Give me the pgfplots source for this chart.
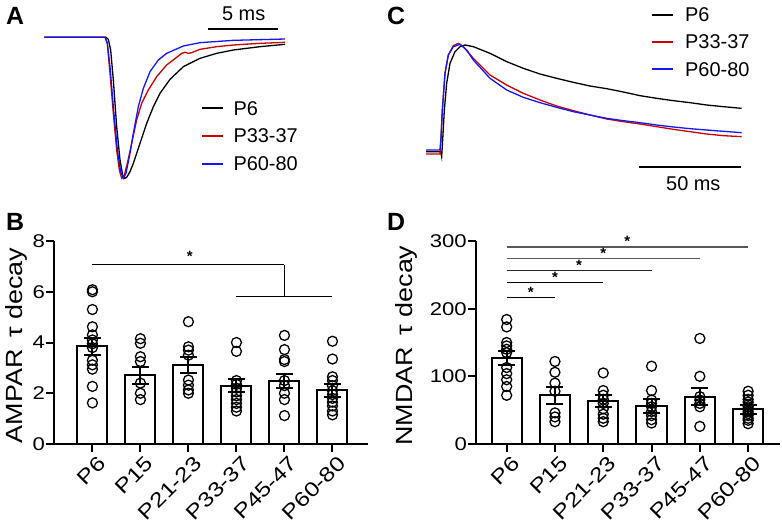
\documentclass[border=0pt]{standalone}
\usepackage{pgfplots}
\pgfplotsset{compat=1.18}
\usepackage{fontspec}
\setmainfont{Liberation Sans}
\newfontfamily\stretchfont{Liberation Sans}[FakeStretch=1.2]
\newfontfamily\ylabfont{Liberation Sans}[FakeStretch=1.15]
\definecolor{tred}{RGB}{200,0,0}
\definecolor{tblue}{RGB}{20,20,255}
\pgfplotsset{
  trace/.style={hide axis, scale only axis, clip=false, y dir=reverse, ymin=0, ymax=600},
  barpanel/.style={
    scale only axis, clip=false, height=203bp,
    axis lines*=left, axis line style={line width=2bp, black},
    tick align=outside, major tick length=8bp,
    tick style={black, line width=2bp},
    /pgf/number format/assume math mode=true,
    yticklabel style={font=\stretchfont\fontsize{18.5}{20}\selectfont, inner sep=1bp},
    xtick={0,1,2,3,4,5},
    xticklabels={P6,P15,P21-23,P33-37,P45-47,P60-80},
    xticklabel style={rotate=45, anchor=north east, font=\stretchfont\fontsize{20.5}{22}\selectfont, inner sep=1bp, xshift=2bp, yshift=-4bp},
    ymin=0,
  },
  bars/.style={ybar, bar width=0.625, fill=white, draw=black, line width=2bp,
    error bars/.cd, y dir=both, y explicit, error bar style={line width=2bp, black},
    error mark options={rotate=90, mark size=8.5bp, line width=2bp, black}},
  pts/.style={only marks, mark=o, mark size=5bp, mark options={line width=1.3bp, black}},
}
\tikzset{lab/.style={inner sep=0, font=\fontsize{20}{22}\selectfont},
  ylab/.style={inner sep=0, rotate=90, font=\ylabfont\fontsize{23.5}{25}\selectfont},
  star/.style={inner sep=0, font=\bfseries\fontsize{15}{15}\selectfont},
  letter/.style={inner sep=0, font=\bfseries\fontsize{25}{25}\selectfont}}
\begin{document}
\begin{tikzpicture}
\useasboundingbox (0,0) rectangle (782bp,-525bp);
% ---------------- Panel A ----------------
\begin{axis}[trace, at={(0bp,0bp)}, anchor=north west, width=390bp, height=200bp, xmin=0, xmax=1170]
\addplot[black, line width=1.3bp] coordinates {(133,112) (318,112) (325,118) (332,150) (340,240) (350,380) (360,480) (368,525) (374,535) (380,532) (390,515) (400,490) (420,430) (440,370) (460,320) (480,280) (510,238) (550,200) (600,175) (650,160) (700,150) (780,140) (855,133)};
\addplot[tred, line width=1.3bp] coordinates {(133,112) (315,112) (322,130) (330,220) (340,340) (350,450) (358,510) (365,535) (372,530) (382,490) (395,430) (410,360) (425,310) (445,270) (470,230) (500,195) (530,172) (545,160) (555,157) (565,160) (575,158) (600,148) (650,140) (700,135) (780,130) (855,127)};
\addplot[tblue, line width=1.3bp] coordinates {(133,112) (316,112) (322,130) (330,200) (340,320) (352,450) (362,515) (370,535) (378,520) (390,460) (400,400) (415,320) (430,265) (450,215) (475,180) (500,160) (550,138) (600,128) (700,121) (855,117)};
\addplot[black, line width=1.5bp] coordinates {(605,324) (668,324)};
\addplot[tred, line width=1.5bp] coordinates {(605,408) (668,408)};
\addplot[tblue, line width=1.5bp] coordinates {(605,492) (668,492)};
\node[lab, anchor=west] at (axis cs:700,325) {P6};
\node[lab, anchor=west] at (axis cs:700,408) {P33-37};
\node[lab, anchor=west] at (axis cs:700,492) {P60-80};
\addplot[black, line width=2bp] coordinates {(623,87) (835,87)};
\node[lab] at (axis cs:731,40) {5 ms};
\end{axis}
% ---------------- Panel C ----------------
\begin{axis}[trace, at={(390bp,0bp)}, anchor=north west, width=392bp, height=200bp, xmin=0, xmax=1176]
\addplot[black, line width=1.3bp] coordinates {(108,455) (152,455) (155,470) (158,420) (163,330) (170,250) (180,190) (195,155) (210,140) (225,135) (250,140) (300,160) (350,185) (400,205) (450,222) (500,235) (550,247) (600,258) (650,266) (700,276) (750,287) (800,295) (850,302) (900,308) (950,315) (1000,320) (1055,325)};
\addplot[tred, line width=1.3bp] coordinates {(108,462) (150,462) (153,420) (157,330) (165,220) (175,165) (190,137) (205,130) (220,140) (250,175) (300,225) (350,255) (400,280) (450,300) (500,318) (550,332) (600,345) (650,357) (700,365) (750,372) (800,380) (850,388) (900,395) (950,402) (1000,407) (1055,410)};
\addplot[tblue, line width=1.3bp] coordinates {(108,450) (150,450) (153,410) (157,330) (165,220) (175,165) (190,140) (210,133) (230,150) (250,180) (300,235) (350,270) (400,292) (450,308) (500,322) (550,335) (600,345) (650,355) (700,362) (750,368) (800,375) (850,381) (900,386) (950,390) (1000,394) (1055,398)};
\addplot[black, line width=1.5bp] coordinates {(785,45) (850,45)};
\addplot[tred, line width=1.5bp] coordinates {(785,126) (850,126)};
\addplot[tblue, line width=1.5bp] coordinates {(785,207) (850,207)};
\node[lab, anchor=west] at (axis cs:885,45) {P6};
\node[lab, anchor=west] at (axis cs:885,125) {P33-37};
\node[lab, anchor=west] at (axis cs:885,208) {P60-80};
\addplot[black, line width=2bp] coordinates {(748,501) (1053,501)};
\node[lab] at (axis cs:910,550) {50 ms};
\end{axis}
% ---------------- Panel B ----------------
\begin{axis}[barpanel, at={(54bp,-444bp)}, anchor=south west, width=314bp,
  xmin=-0.8, xmax=5.74, ymax=8, ytick={0,2,4,6,8}]
\addplot[bars] coordinates {(0,3.85) +- (0,0.34) (1,2.70) +- (0,0.32) (2,3.10) +- (0,0.31) (3,2.30) +- (0,0.27) (4,2.48) +- (0,0.27) (5,2.12) +- (0,0.26)};
\addplot[pts] coordinates {(0,6.08) (0,6.0) (0,5.3) (0,4.62) (0,4.3) (0,4.1) (0,3.95) (0,3.8) (0,3.3) (0,3.12) (0,2.95) (0,2.27) (0,1.62)};
\addplot[pts] coordinates {(1,4.15) (1,3.97) (1,3.44) (1,3.25) (1,2.4) (1,2.0) (1,1.75)};
\addplot[pts] coordinates {(2,4.82) (2,3.83) (2,3.7) (2,3.5) (2,2.52) (2,2.32) (2,2.13) (2,2.0)};
\addplot[pts] coordinates {(3,4.0) (3,3.65) (3,2.5) (3,2.35) (3,2.2) (3,2.05) (3,1.9) (3,1.75) (3,1.6) (3,1.45) (3,1.3)};
\addplot[pts] coordinates {(4,4.28) (4,3.72) (4,3.33) (4,3.25) (4,2.5) (4,2.3) (4,2.0) (4,1.75) (4,1.12)};
\addplot[pts] coordinates {(5,4.05) (5,3.35) (5,2.65) (5,2.5) (5,2.3) (5,2.1) (5,1.95) (5,1.8) (5,1.65) (5,1.5) (5,1.3) (5,1.15)};
\addplot[black, line width=1.3bp] coordinates {(0,7.07) (4,7.07)};
\addplot[black, line width=1.3bp] coordinates {(4,7.07) (4,5.82)};
\addplot[black, line width=1.3bp] coordinates {(3,5.82) (5,5.82)};
\node[star] at (axis cs:2.03,7.38) {*};
\node[ylab] at (rel axis cs:-0.12,0.485) {AMPAR\, τ decay};
\end{axis}
% ---------------- Panel D ----------------
\begin{axis}[barpanel, at={(476bp,-444bp)}, anchor=south west, width=304bp,
  xmin=-0.635, xmax=5.66, ymax=300, ytick={0,100,200,300}]
\addplot[bars] coordinates {(0,127) +- (0,10) (1,72) +- (0,12.5) (2,63) +- (0,9) (3,56) +- (0,10) (4,70) +- (0,12.5) (5,51) +- (0,6)};
\addplot[pts] coordinates {(0,184) (0,173) (0,150) (0,145) (0,140) (0,135) (0,113) (0,104) (0,95) (0,85) (0,72)};
\addplot[pts] coordinates {(1,122) (1,106) (1,90) (1,78) (1,46) (1,40) (1,33)};
\addplot[pts] coordinates {(2,105) (2,79) (2,72) (2,66) (2,60) (2,52) (2,44) (2,38) (2,33)};
\addplot[pts] coordinates {(3,115) (3,79) (3,65) (3,60) (3,55) (3,48) (3,42) (3,36) (3,31)};
\addplot[pts] coordinates {(4,156) (4,100) (4,70) (4,65) (4,60) (4,55) (4,26)};
\addplot[pts] coordinates {(5,78) (5,72) (5,66) (5,62) (5,58) (5,55) (5,52) (5,48) (5,45) (5,42) (5,38) (5,35) (5,30)};
\addplot[black!65, line width=1.3bp] coordinates {(0,291) (5,291)};
\addplot[black!65, line width=1.3bp] coordinates {(0,274) (4,274)};
\addplot[black!85, line width=1.3bp] coordinates {(0,256.5) (3,256.5)};
\addplot[black, line width=1.3bp] coordinates {(0,238.5) (2,238.5)};
\addplot[black, line width=1.3bp] coordinates {(0,216) (1,216)};
\node[star] at (axis cs:2.5,299) {*};
\node[star] at (axis cs:2.0,282) {*};
\node[star] at (axis cs:1.5,264.5) {*};
\node[star] at (axis cs:1.0,246.5) {*};
\node[star] at (axis cs:0.5,224) {*};
\node[ylab] at (rel axis cs:-0.23,0.485) {NMDAR\, τ decay};
\end{axis}
% panel letters
\node[letter] at (15bp,-16bp) {A};
\node[letter] at (15bp,-222bp) {B};
\node[letter] at (396bp,-16bp) {C};
\node[letter] at (396bp,-222bp) {D};
\end{tikzpicture}
\end{document}
